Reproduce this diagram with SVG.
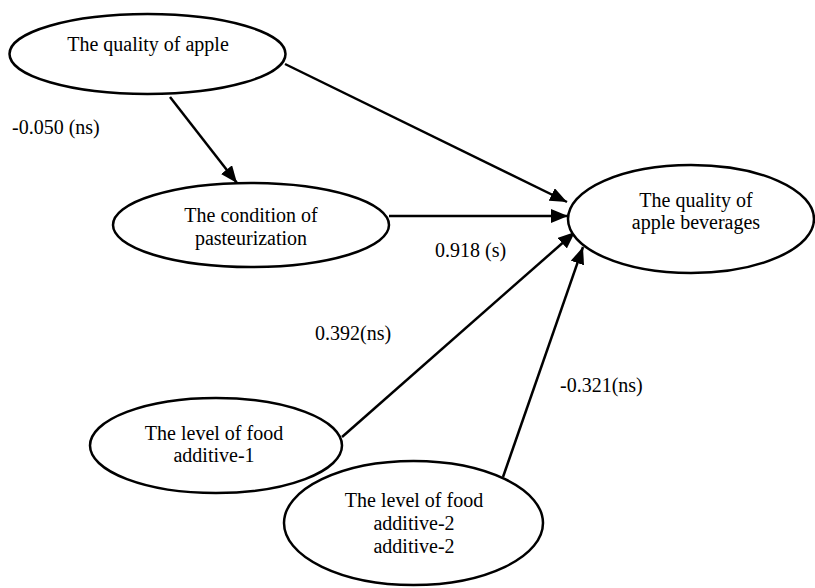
<svg xmlns="http://www.w3.org/2000/svg" width="815" height="588" viewBox="0 0 815 588">
<defs>
<style>
.node ellipse{fill:#fff;stroke:#000;stroke-width:2.5}
text{font-family:"Liberation Serif","Times New Roman",serif;font-size:20px;fill:#000}
.nt{text-anchor:middle}
.edge{stroke:#000;stroke-width:2.5;fill:none;marker-end:url(#arr)}
</style>
<marker id="arr" markerUnits="userSpaceOnUse" markerWidth="18" markerHeight="14" refX="17" refY="7" orient="auto">
<path d="M0,0 L17,7 L0,14 z" fill="#000"/>
</marker>
</defs>
<rect width="815" height="588" fill="#fff"/>
<g id="connectors">
<line class="edge" x1="170" y1="97" x2="237" y2="183"/>
<line class="edge" x1="285" y1="64" x2="567" y2="202"/>
<line class="edge" x1="389" y1="216" x2="568" y2="216"/>
<line class="edge" x1="342" y1="437" x2="575" y2="232"/>
<line class="edge" x1="503" y1="477" x2="583" y2="247"/>
</g>
<g id="labels">
<text x="12" y="134">-0.050 (ns)</text>
<text x="435" y="257">0.918 (s)</text>
<text x="315" y="340">0.392(ns)</text>
<text x="560" y="392">-0.321(ns)</text>
</g>
<g id="n1" class="node">
<ellipse cx="147.5" cy="54" rx="138" ry="40"/>
<text class="nt" x="148" y="51">The quality of apple</text>
</g>
<g id="n2" class="node">
<ellipse cx="251" cy="225" rx="138" ry="42"/>
<text class="nt" x="251" y="222">The condition of</text>
<text class="nt" x="251" y="245">pasteurization</text>
</g>
<g id="n3" class="node">
<ellipse cx="691" cy="219" rx="123" ry="54"/>
<text class="nt" x="696" y="207">The quality of</text>
<text class="nt" x="696" y="229">apple beverages</text>
</g>
<g id="n4" class="node">
<ellipse cx="216" cy="445.5" rx="126" ry="47.5"/>
<text class="nt" x="214" y="440">The level of food</text>
<text class="nt" x="214" y="462">additive-1</text>
</g>
<g id="n5" class="node">
<ellipse cx="413.5" cy="523" rx="129.5" ry="62"/>
<text class="nt" x="414" y="507">The level of food</text>
<text class="nt" x="414" y="530">additive-2</text>
<text class="nt" x="414" y="553">additive-2</text>
</g>
</svg>
